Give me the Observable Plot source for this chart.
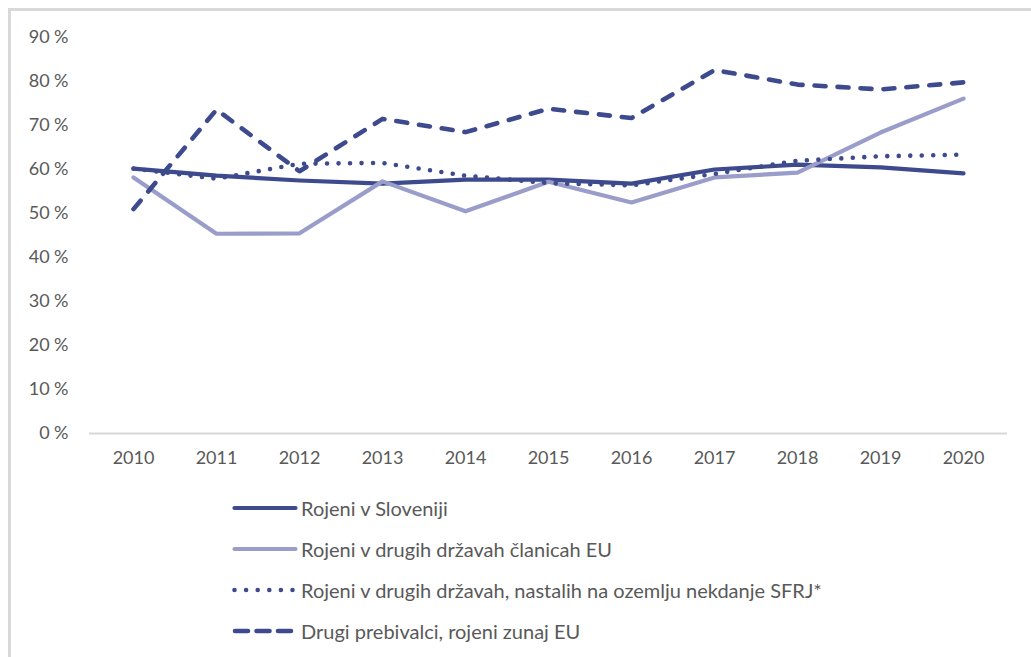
<!DOCTYPE html>
<html>
<head>
<meta charset="utf-8">
<script src="https://cdn.jsdelivr.net/npm/d3@7"></script>
<script src="https://cdn.jsdelivr.net/npm/@observablehq/plot@0.6"></script>
<style>
  html, body { margin: 0; padding: 0; background: #fff; }
  #frame {
    position: absolute; left: 8px; top: 8px; width: 1040px; height: 670px;
    border-top: 3px solid #d9d9d9; border-left: 3px solid #d9d9d9;
  }
  #chart { position: absolute; left: 0; top: 0; }
  #legend {
    position: absolute; left: 232px; top: 487px;
    font-family: Lato, "Open Sans", sans-serif; font-size: 20px; color: #595959;
  }
  .row { display: flex; align-items: center; height: 41px; }
  .row svg { margin-right: 3px; }
</style>
</head>
<body>
<div id="frame"></div>
<div id="chart"></div>
<div id="legend"></div>
<script>
const years = ["2010","2011","2012","2013","2014","2015","2016","2017","2018","2019","2020"];
const seriesNames = [
  "Rojeni v Sloveniji",
  "Rojeni v drugih državah članicah EU",
  "Rojeni v drugih državah, nastalih na ozemlju nekdanje SFRJ*",
  "Drugi prebivalci, rojeni zunaj EU"
];
const slovenia = [60.2, 58.6, 57.5, 56.8, 57.7, 57.7, 56.8, 60.0, 61.1, 60.5, 59.1];
const otherEU  = [58.2, 45.4, 45.5, 57.3, 50.5, 57.2, 52.5, 58.2, 59.3, 68.4, 76.1];
const sfrj     = [60.2, 57.9, 61.3, 61.5, 58.6, 56.9, 56.4, 59.0, 62.0, 63.0, 63.4];
const outsideEU= [51.0, 73.6, 59.6, 71.5, 68.5, 73.8, 71.7, 82.6, 79.3, 78.2, 79.8];
const yTicks = [0, 10, 20, 30, 40, 50, 60, 70, 80, 90];

const allValues = [slovenia, otherEU, sfrj, outsideEU];
const styles = [
  {stroke: "#3d4a8e", strokeWidth: 4.2, dash: null},
  {stroke: "#9a9dca", strokeWidth: 4.2, dash: null},
  {stroke: "#3d4a8e", strokeWidth: 4.6, dash: "0,11.5"},
  {stroke: "#3d4a8e", strokeWidth: 4.6, dash: "11,12"}
];
const rows = allValues.map(vals => years.map((y, i) => ({year: y, value: vals[i]})));

const marks = [
  Plot.ruleY([0], {stroke: "#d9d9d9", strokeWidth: 2})
];
rows.forEach((data, k) => {
  const s = styles[k];
  const opts = {x: "year", y: "value", stroke: s.stroke, strokeWidth: s.strokeWidth,
                strokeLinecap: "round", strokeLinejoin: "round"};
  if (s.dash) opts.strokeDasharray = s.dash;
  marks.push(Plot.line(data, opts));
});

const chart = Plot.plot({
  width: 1031,
  height: 480,
  marginLeft: 89,
  marginRight: 24,
  marginTop: 37,
  marginBottom: 47,
  style: {fontFamily: "Lato, 'Open Sans', sans-serif", fontSize: "18px", color: "#595959", background: "transparent"},
  x: {type: "point", domain: years, padding: 0.5, label: null, tickSize: 0, tickPadding: 18},
  y: {domain: [0, 90], ticks: yTicks, label: null, tickSize: 0, tickPadding: 21,
      tickFormat: d => d + "\u202F%"},
  marks
});
document.getElementById("chart").appendChild(chart);

const legend = document.getElementById("legend");
seriesNames.forEach((name, k) => {
  const s = styles[k];
  const row = document.createElement("div");
  row.className = "row";
  const svg = d3.create("svg").attr("width", 66).attr("height", 10);
  const ln = svg.append("line").attr("x1", 2.5).attr("x2", 63.5).attr("y1", 5).attr("y2", 5)
    .attr("stroke", s.stroke).attr("stroke-width", s.strokeWidth).attr("stroke-linecap", "round");
  if (k === 2) ln.attr("stroke-dasharray", "0,11.6");
  if (k === 3) ln.attr("stroke-dasharray", "13,8.5").attr("x1", 3).attr("x2", 64);
  row.appendChild(svg.node());
  const span = document.createElement("span");
  span.textContent = name;
  row.appendChild(span);
  legend.appendChild(row);
});
</script>
</body>
</html>
